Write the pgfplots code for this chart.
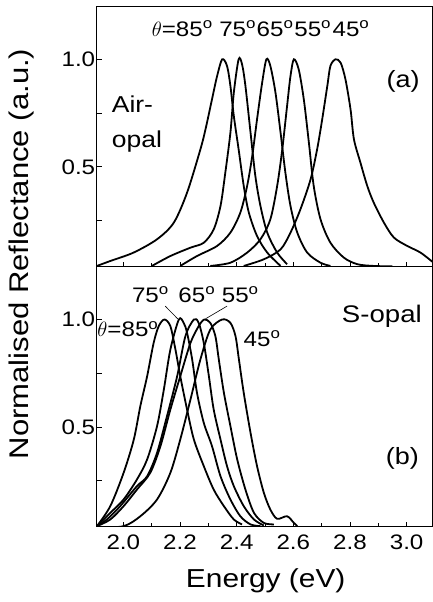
\documentclass[border=0pt]{standalone}
\usepackage{fontspec}
\setmainfont{Liberation Sans}[FakeStretch=1.15]
\usepackage{pgfplots}
\pgfplotsset{compat=1.18}
\pgfplotsset{
  panel/.style={
    scale only axis, width=336pt, height=260.2pt,
    xmin=1.906, xmax=3.092, ymin=0.035, ymax=1.245,
    xtick={2.0,2.2,2.4,2.6,2.8,3.0},
    minor xtick={2.1,2.3,2.5,2.7,2.9},
    ytick={0.25,0.5,0.75,1.0}, yticklabels={,0.5,,1.0},
    tick align=inside, tick pos=left,
    major tick length=5pt, minor tick length=4pt,
    axis line style={line width=1pt},
    every tick/.style={black, line width=0.8pt},
    /pgf/number format/assume math mode=true,
    ticklabel style={font=\fontsize{21}{25}\selectfont},
    yticklabel style={xshift=2pt},
    xticklabel style={yshift=-4pt},
    cycle list={black, line width=1.8pt, mark=none, smooth, tension=0.5\\},
  }
}
\begin{document}
\begin{tikzpicture}[font=\fontsize{21}{25}\selectfont]
% bottom panel (b)
\begin{axis}[panel, at={(0pt,0pt)}, anchor=south west,
  xticklabels={2.0,2.2,2.4,2.6,2.8,3.0}]
\addplot coordinates {(1.907,0.039)(1.954,0.132)(2.001,0.287)(2.037,0.442)(2.060,0.597)(2.084,0.736)(2.107,0.891)(2.125,0.969)(2.145,1.0)(2.166,0.969)(2.184,0.860)(2.201,0.736)(2.225,0.581)(2.249,0.442)(2.284,0.318)(2.319,0.209)(2.355,0.132)(2.390,0.070)(2.419,0.047)};
\addplot coordinates {(1.907,0.039)(1.954,0.101)(2.001,0.163)(2.048,0.256)(2.084,0.349)(2.119,0.504)(2.143,0.674)(2.166,0.860)(2.196,1.0)(2.213,0.984)(2.225,0.938)(2.243,0.814)(2.260,0.659)(2.284,0.519)(2.313,0.411)(2.343,0.271)(2.378,0.163)(2.413,0.085)(2.449,0.047)(2.484,0.039)};
\addplot coordinates {(1.907,0.039)(1.942,0.070)(1.989,0.132)(2.048,0.225)(2.084,0.271)(2.119,0.380)(2.154,0.550)(2.190,0.736)(2.219,0.922)(2.249,1.0)(2.266,0.984)(2.284,0.891)(2.302,0.736)(2.319,0.581)(2.343,0.442)(2.366,0.318)(2.390,0.225)(2.425,0.132)(2.461,0.070)(2.496,0.042)};
\addplot coordinates {(1.907,0.039)(1.954,0.070)(2.001,0.132)(2.048,0.209)(2.095,0.287)(2.131,0.411)(2.166,0.581)(2.201,0.736)(2.237,0.891)(2.266,0.969)(2.286,1.0)(2.307,0.984)(2.325,0.922)(2.337,0.814)(2.355,0.659)(2.378,0.504)(2.402,0.349)(2.431,0.209)(2.461,0.101)(2.496,0.054)(2.531,0.047)};
\addplot coordinates {(1.907,0.031)(2.001,0.039)(2.060,0.085)(2.119,0.163)(2.166,0.287)(2.201,0.442)(2.237,0.628)(2.272,0.814)(2.307,0.953)(2.349,1.0)(2.378,0.984)(2.396,0.922)(2.408,0.814)(2.425,0.659)(2.449,0.473)(2.472,0.318)(2.496,0.194)(2.519,0.116)(2.543,0.073)(2.578,0.085)(2.602,0.054)(2.614,0.039)};
% leader lines
\addplot[black, line width=0.6pt, sharp plot, mark=none] coordinates {(2.148,1.062)(2.192,1.003)};
\addplot[black, line width=0.6pt, sharp plot, mark=none] coordinates {(2.366,1.062)(2.290,1.003)};
\node[anchor=base west, inner xsep=0pt] at (axis cs:1.908,0.920) {$\theta$=85\textsuperscript{o}};
\node[anchor=base west, inner xsep=0pt] at (axis cs:2.030,1.080) {75\textsuperscript{o}};
\node[anchor=base west, inner xsep=0pt] at (axis cs:2.194,1.080) {65\textsuperscript{o}};
\node[anchor=base west, inner xsep=0pt] at (axis cs:2.347,1.080) {55\textsuperscript{o}};
\node[anchor=base west, inner xsep=0pt] at (axis cs:2.424,0.876) {45\textsuperscript{o}};
\node[anchor=base west, inner xsep=0pt, font=\fontsize{24}{28}\selectfont] at (axis cs:2.771,0.985) {S-opal};
\node[font=\fontsize{23.5}{28}\selectfont] at (axis cs:2.985,0.353) {(b)};
\end{axis}
% top panel (a)
\begin{axis}[panel, at={(0pt,260.2pt)}, anchor=south west, xticklabels={}]
\addplot coordinates {(1.907,0.039)(1.954,0.062)(2.036,0.101)(2.119,0.163)(2.178,0.240)(2.225,0.380)(2.272,0.581)(2.290,0.674)(2.313,0.814)(2.331,0.922)(2.349,1.0)(2.366,0.969)(2.378,0.876)(2.390,0.736)(2.407,0.581)(2.425,0.411)(2.443,0.287)(2.472,0.178)(2.508,0.101)(2.555,0.039)};
\addplot coordinates {(2.101,0.039)(2.166,0.085)(2.237,0.124)(2.284,0.147)(2.319,0.209)(2.343,0.318)(2.360,0.473)(2.378,0.659)(2.390,0.845)(2.407,1.0)(2.419,0.977)(2.431,0.876)(2.449,0.659)(2.466,0.457)(2.484,0.318)(2.508,0.194)(2.543,0.101)(2.578,0.047)};
\addplot coordinates {(2.201,0.039)(2.260,0.085)(2.331,0.132)(2.378,0.194)(2.413,0.287)(2.437,0.411)(2.455,0.550)(2.472,0.721)(2.490,0.891)(2.505,1.0)(2.519,0.969)(2.537,0.845)(2.555,0.659)(2.572,0.473)(2.590,0.318)(2.614,0.194)(2.649,0.101)(2.696,0.054)(2.731,0.039)};
\addplot coordinates {(2.307,0.039)(2.378,0.054)(2.437,0.101)(2.484,0.163)(2.519,0.256)(2.543,0.411)(2.561,0.581)(2.578,0.783)(2.590,0.922)(2.602,1.0)(2.619,0.953)(2.637,0.814)(2.655,0.612)(2.672,0.411)(2.696,0.256)(2.731,0.147)(2.778,0.078)(2.826,0.047)(2.884,0.039)(2.950,0.037)};
\addplot coordinates {(2.425,0.039)(2.496,0.070)(2.555,0.116)(2.590,0.194)(2.625,0.302)(2.661,0.442)(2.684,0.581)(2.702,0.721)(2.720,0.876)(2.731,0.969)(2.749,1.0)(2.767,0.984)(2.784,0.907)(2.802,0.767)(2.814,0.628)(2.837,0.519)(2.861,0.411)(2.884,0.333)(2.920,0.240)(2.955,0.171)(3.002,0.132)(3.049,0.101)(3.095,0.054)};
\node[anchor=base west, inner xsep=0pt, font=\fontsize{21}{25}\selectfont] at (axis cs:2.100,1.107) {$\theta$=85\textsuperscript{o}};
\node[anchor=base west, inner xsep=0pt, font=\fontsize{21}{25}\selectfont] at (axis cs:2.338,1.107) {75\textsuperscript{o}};
\node[anchor=base west, inner xsep=0pt, font=\fontsize{21}{25}\selectfont] at (axis cs:2.470,1.107) {65\textsuperscript{o}};
\node[anchor=base west, inner xsep=0pt, font=\fontsize{21}{25}\selectfont] at (axis cs:2.603,1.107) {55\textsuperscript{o}};
\node[anchor=base west, inner xsep=0pt, font=\fontsize{21}{25}\selectfont] at (axis cs:2.738,1.107) {45\textsuperscript{o}};
\node[anchor=base west, inner xsep=0pt, font=\fontsize{23}{28}\selectfont] at (axis cs:1.959,0.752) {Air-};
\node[anchor=base west, inner xsep=0pt, font=\fontsize{23}{28}\selectfont] at (axis cs:1.959,0.589) {opal};
\node[font=\fontsize{23.5}{28}\selectfont] at (axis cs:2.988,0.899) {(a)};
\end{axis}
\node[rotate=90, font=\fontsize{27}{32}\selectfont] at (-74.7pt,273pt) {Normalised Reflectance (a.u.)};
\node[anchor=base, font=\fontsize{26}{30}\selectfont] at (169pt,-60.3pt) {Energy (eV)};
\pgfresetboundingbox
\path (-96.7pt,-75pt) rectangle (336.3pt,527pt);
\end{tikzpicture}
\end{document}
